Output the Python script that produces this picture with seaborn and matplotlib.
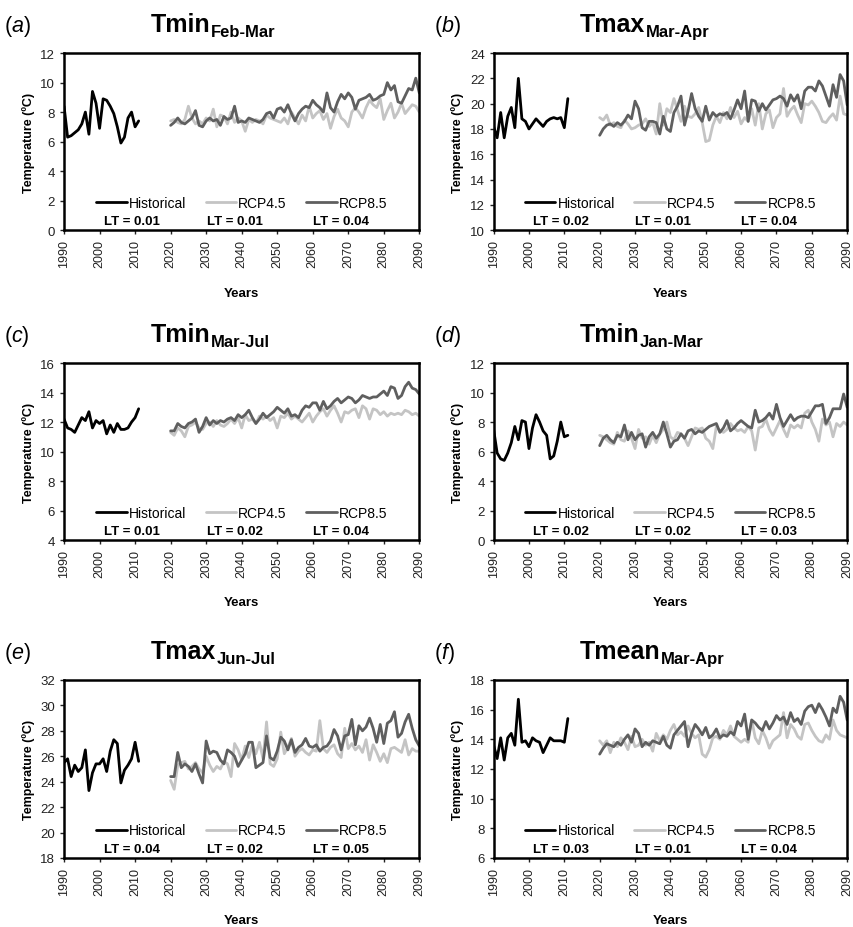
import matplotlib
matplotlib.use("Agg")
import matplotlib.pyplot as plt
import pandas as pd
import seaborn as sns

sns.set_style("ticks")
plt.rcParams['font.family'] = ['Liberation Sans', 'DejaVu Sans']
plt.rcParams['mathtext.fontset'] = 'custom'
plt.rcParams['mathtext.rm'] = 'Liberation Sans'
plt.rcParams['mathtext.it'] = 'Liberation Sans:italic'
plt.rcParams['mathtext.bf'] = 'Liberation Sans:bold'
plt.rcParams['text.color'] = 'black'
plt.rcParams['axes.labelcolor'] = 'black'

# years
hist_years = list(range(1990, 2012))
proj_years = list(range(2020, 2091))

# (a) Tmin Feb-Mar
a_hist = [8.4, 6.3, 6.4, 6.6, 6.8, 7.2, 8.0, 6.5, 9.4, 8.6, 6.9, 8.9, 8.8, 8.4, 7.9, 7.0,
          5.9, 6.3, 7.6, 8.0, 7.0, 7.4]
a_rcp45 = [7.4, 7.5, 7.3, 7.2, 7.5, 8.4, 7.6, 7.2, 7.4, 7.2,
           7.6, 7.4, 8.2, 7.0, 7.8, 7.7, 7.2, 8.0, 7.3, 7.6,
           7.4, 6.7, 7.5, 7.3, 7.5, 7.4, 7.2, 7.8, 7.6, 7.5,
           7.4, 7.3, 7.6, 7.2, 8.0, 7.6, 7.2, 7.8, 7.4, 8.4,
           7.6, 7.9, 8.1, 7.5, 7.9, 6.9, 7.7, 8.2, 7.6, 7.4,
           7.0, 8.0, 8.3, 8.0, 7.6, 8.3, 8.8, 8.5, 8.3, 8.9,
           7.5, 8.1, 8.6, 7.6, 8.0, 8.6, 7.9, 8.2, 8.5, 8.4, 8.0]
a_rcp85 = [7.1, 7.3, 7.6, 7.3, 7.2, 7.4, 7.6, 8.1, 7.1, 7.0,
           7.4, 7.6, 7.4, 7.5, 7.1, 7.7, 7.5, 7.6, 8.4, 7.3,
           7.4, 7.3, 7.6, 7.5, 7.4, 7.3, 7.5, 7.9, 8.0, 7.6,
           8.2, 8.3, 8.0, 8.5, 7.9, 7.4, 7.9, 8.2, 8.4, 8.3,
           8.8, 8.5, 8.3, 8.0, 9.3, 8.3, 8.0, 8.7, 9.2, 8.9,
           9.3, 9.0, 8.2, 8.8, 8.9, 9.0, 9.2, 8.8, 8.9, 9.1,
           9.2, 10.0, 9.5, 9.8, 8.7, 8.6, 9.1, 9.6, 9.5, 10.3, 9.3]

# (b) Tmax Mar-Apr
b_hist = [18.2, 17.3, 19.3, 17.3, 19.0, 19.7, 18.1, 22.0, 18.8, 18.6, 18.0, 18.4, 18.8,
          18.5, 18.2, 18.6, 18.8, 18.9, 18.8, 18.9, 18.1, 20.4]
b_rcp45 = [18.9, 18.7, 19.1, 18.3, 18.5, 18.2, 18.1, 18.7, 18.4, 18.0,
           18.1, 18.3, 18.4, 18.8, 18.2, 18.5, 17.6, 20.0, 18.3, 19.6,
           19.3, 20.4, 19.5, 18.6, 19.8, 19.0, 18.9, 19.2, 19.7, 18.5,
           17.0, 17.1, 18.3, 19.0, 18.5, 19.3, 18.8, 19.7, 18.9, 19.4,
           18.4, 18.9, 18.6, 19.6, 18.3, 20.0, 18.0, 19.2, 19.5, 18.1,
           18.9, 19.2, 21.2, 19.0, 19.5, 19.8, 19.1, 18.5, 20.0, 19.9,
           20.2, 19.8, 19.3, 18.6, 18.5, 18.9, 19.2, 18.7, 20.6, 19.2, 19.1]
b_rcp85 = [17.5, 18.0, 18.3, 18.4, 18.2, 18.5, 18.3, 18.6, 19.1, 18.8,
           20.2, 19.6, 18.1, 17.9, 18.6, 18.6, 18.5, 17.6, 19.0, 18.0,
           17.8, 19.3, 19.8, 20.6, 18.3, 19.4, 20.8, 19.6, 19.0, 18.6,
           19.8, 18.7, 19.3, 19.0, 19.2, 19.1, 19.3, 18.8, 19.5, 20.3,
           19.6, 21.0, 18.6, 20.3, 20.2, 19.4, 20.0, 19.5, 19.9, 20.3,
           20.4, 20.6, 20.4, 19.8, 20.7, 20.2, 20.7, 19.6, 21.0, 21.3,
           21.3, 21.0, 21.8, 21.4, 20.6, 19.8, 21.5, 20.5, 22.3, 21.8, 19.9]

# (c) Tmin Mar-Jul
c_hist = [12.2, 11.6, 11.5, 11.3, 11.8, 12.3, 12.1, 12.7, 11.6, 12.1, 11.9, 12.1, 11.2,
          11.8, 11.3, 11.9, 11.5, 11.5, 11.6, 12.0, 12.3, 12.9]
c_rcp45 = [11.3, 11.1, 11.6, 11.4, 11.0, 11.7, 11.8, 12.0, 11.6, 11.5,
           11.9, 12.0, 11.7, 12.1, 11.8, 11.7, 11.9, 12.2, 11.9, 12.3,
           11.6, 12.5, 12.1, 12.2, 11.9, 12.4, 12.2, 12.4, 12.1, 12.3,
           11.6, 12.4, 12.3, 12.6, 12.2, 12.4, 12.2, 12.0, 12.3, 12.6,
           12.0, 12.4, 12.7, 12.9, 12.4, 12.8, 13.1, 12.6, 12.0, 12.7,
           12.6, 12.8, 12.9, 12.3, 13.1, 12.9, 12.2, 12.9, 12.8, 12.5,
           12.7, 12.4, 12.6, 12.5, 12.6, 12.5, 12.8, 12.7, 12.5, 12.6, 12.4]
c_rcp85 = [11.4, 11.4, 11.9, 11.7, 11.6, 11.9, 12.0, 12.2, 11.3, 11.7,
           12.3, 11.8, 12.1, 11.9, 12.1, 12.0, 12.2, 12.3, 12.1, 12.5,
           12.3, 12.5, 12.8, 12.3, 11.9, 12.2, 12.6, 12.3, 12.5, 12.7,
           13.0, 12.8, 12.6, 12.9, 12.4, 12.5, 12.3, 12.8, 13.1, 13.0,
           13.3, 13.3, 12.8, 13.4, 12.9, 13.1, 13.4, 13.6, 13.3, 13.5,
           13.7, 13.6, 13.3, 13.5, 13.8, 13.7, 13.6, 13.7, 13.7, 13.9,
           14.1, 13.8, 14.4, 14.3, 13.6, 13.8, 14.4, 14.7, 14.3, 14.2, 13.9]

# (d) Tmin Jan-Mar
d_hist = [7.5, 5.9, 5.5, 5.4, 5.9, 6.6, 7.7, 6.8, 8.1, 8.0, 6.2, 7.6, 8.5, 8.0, 7.4, 7.1,
          5.5, 5.7, 6.7, 8.0, 7.0, 7.1]
d_rcp45 = [7.1, 7.0, 6.8, 6.6, 6.5, 7.3, 6.8, 6.7, 7.4, 6.9,
           6.2, 7.5, 6.9, 7.0, 6.5, 7.1, 6.6, 7.2, 7.5, 8.0,
           7.0, 6.8, 7.3, 7.2, 6.9, 6.4, 7.0, 7.6, 7.5, 7.6,
           6.9, 6.7, 6.2, 7.7, 7.4, 7.3, 7.5, 7.9, 7.6, 7.4,
           7.5, 7.3, 7.7, 7.4, 6.1, 7.6, 7.7, 8.2, 7.5, 7.1,
           7.6, 8.1, 7.5, 7.0, 7.8, 7.6, 7.8, 7.6, 8.6, 8.8,
           8.0, 7.5, 6.7, 8.2, 7.8, 8.0, 7.0, 7.9, 7.7, 8.0, 7.8]
d_rcp85 = [6.4, 6.9, 7.1, 6.8, 6.6, 7.1, 7.0, 7.8, 6.8, 7.3,
           6.8, 7.1, 7.2, 6.3, 7.0, 7.3, 6.9, 7.2, 8.0, 7.2,
           6.3, 6.7, 6.8, 7.2, 6.9, 7.4, 7.5, 7.2, 7.4, 7.3,
           7.5, 7.7, 7.8, 7.9, 7.3, 7.6, 8.1, 7.4, 7.6, 7.9,
           8.1, 7.9, 7.7, 7.6, 8.8, 8.0, 8.1, 8.3, 8.6, 8.2,
           9.2, 8.3, 7.7, 8.1, 8.5, 8.1, 8.3, 8.4, 8.4, 8.3,
           8.7, 9.1, 9.1, 9.2, 7.9, 8.3, 8.9, 8.9, 8.9, 9.9, 9.0]

# (e) Tmax Jun-Jul
e_hist = [25.5, 25.8, 24.4, 25.3, 24.8, 25.1, 26.5, 23.3, 24.7, 25.4, 25.4, 25.8, 24.8,
          26.4, 27.3, 27.0, 23.9, 24.9, 25.3, 25.8, 27.1, 25.6]
e_rcp45 = [24.1, 23.4, 25.3, 25.5, 25.6, 25.0, 25.2, 25.5, 25.0, 24.7,
           26.0, 25.3, 24.8, 25.2, 25.0, 25.6, 25.4, 24.4, 27.0, 26.5,
           25.7, 26.8, 25.9, 26.9, 26.2, 27.1, 25.8, 28.7, 25.4, 25.2,
           25.8, 27.9, 26.2, 26.7, 27.4, 26.0, 26.4, 26.6, 26.3, 26.1,
           26.5, 26.4, 28.8, 26.6, 26.3, 26.7, 26.9, 26.2, 25.9, 28.2,
           26.6, 27.0, 26.5, 26.8, 26.3, 27.3, 25.7, 26.9, 26.3, 25.6,
           26.2, 25.5, 26.6, 26.7, 26.5, 26.3, 27.3, 26.1, 26.6, 26.4, 26.4]
e_rcp85 = [24.4, 24.4, 26.3, 25.1, 25.4, 25.2, 24.8, 25.4, 24.6, 23.9,
           27.2, 26.2, 26.4, 26.3, 25.7, 25.4, 26.5, 26.3, 26.0, 25.2,
           25.7, 26.2, 27.1, 27.1, 25.1, 25.3, 25.5, 27.6, 25.9, 25.7,
           26.4, 27.5, 27.2, 26.5, 27.3, 26.3, 26.7, 26.9, 27.4, 26.8,
           26.7, 26.9, 26.4, 26.7, 26.8, 27.2, 28.1, 27.6, 26.5, 27.6,
           27.7, 28.9, 26.9, 28.4, 28.0, 28.3, 29.0, 28.2, 27.1, 28.5,
           27.0, 28.6, 28.8, 29.5, 27.5, 27.8, 28.7, 29.3, 28.2, 27.3, 26.8]

# (f) Tmean Mar-Apr
f_hist = [13.6, 12.7, 14.1, 12.6, 14.1, 14.4, 13.6, 16.7, 13.8, 13.9, 13.5, 14.1, 13.9,
          13.8, 13.1, 13.6, 14.1, 13.9, 13.9, 13.9, 13.8, 15.4]
f_rcp45 = [13.9, 13.6, 13.9, 13.1, 13.8, 13.5, 14.1, 13.8, 13.3, 14.2,
           13.5, 13.6, 14.0, 13.6, 13.8, 13.2, 14.4, 13.9, 14.3, 14.0,
           14.6, 15.0, 14.3, 14.5, 14.2, 14.9, 14.4, 14.1, 14.3, 13.0,
           12.8, 13.3, 14.1, 14.2, 14.0, 14.6, 14.3, 14.9, 14.2, 14.0,
           13.8, 14.0, 13.8, 15.3, 14.1, 13.7, 14.6, 14.1, 13.4, 13.9,
           14.1, 14.3, 15.8, 14.1, 15.0, 14.7, 14.2, 14.0, 15.0, 15.1,
           14.6, 14.2, 13.9, 13.8, 14.3, 14.0, 15.3, 14.6, 14.3, 14.2, 14.1]
f_rcp85 = [13.0, 13.4, 13.7, 13.6, 13.5, 13.8, 13.6, 14.0, 14.3, 13.8,
           14.7, 14.4, 13.5, 13.8, 13.6, 13.9, 13.8, 13.7, 14.2, 13.6,
           13.4, 14.3, 14.6, 14.9, 15.2, 13.5, 14.4, 15.0, 14.7, 14.3,
           14.8, 14.1, 14.3, 14.7, 14.1, 14.3, 14.2, 14.5, 14.3, 15.2,
           14.9, 15.7, 14.0, 15.3, 15.1, 14.8, 14.6, 15.2, 14.7, 15.1,
           15.6, 15.3, 15.5, 15.0, 15.8, 15.2, 15.4, 15.0, 15.9, 16.2,
           16.3, 15.8, 16.4, 16.0, 15.5, 14.9, 16.1, 15.8, 16.9, 16.5, 15.3]

letters = ['a', 'b', 'c', 'd', 'e', 'f']
var_names = ['Tmin', 'Tmax', 'Tmin', 'Tmin', 'Tmax', 'Tmean']
periods = ['Feb-Mar', 'Mar-Apr', 'Mar-Jul', 'Jan-Mar', 'Jun-Jul', 'Mar-Apr']
y_ranges = [(0, 12), (10, 24), (4, 16), (0, 12), (18, 32), (6, 18)]
lt_values = [('0.01', '0.01', '0.04'), ('0.02', '0.01', '0.04'), ('0.01', '0.02', '0.04'),
             ('0.02', '0.02', '0.03'), ('0.04', '0.02', '0.05'), ('0.03', '0.01', '0.04')]
hist_data = [a_hist, b_hist, c_hist, d_hist, e_hist, f_hist]
rcp45_data = [a_rcp45, b_rcp45, c_rcp45, d_rcp45, e_rcp45, f_rcp45]
rcp85_data = [a_rcp85, b_rcp85, c_rcp85, d_rcp85, e_rcp85, f_rcp85]

series_order = ['Historical', 'RCP4.5', 'RCP8.5']
palette = {'Historical': '#000000', 'RCP4.5': '#c4c4c4', 'RCP8.5': '#5f5f5f'}

# axes positions (figure fractions)
col_left = [0.075, 0.578]
col_width = [0.416, 0.414]
row_bottom = [0.751, 0.417, 0.0744]
row_height = [0.1907, 0.1907, 0.1918]

fig = plt.figure(figsize=(8.54, 9.28), dpi=100)

for i in range(6):
    r, c = divmod(i, 2)
    ax = fig.add_axes([col_left[c], row_bottom[r], col_width[c], row_height[r]])

    df = pd.concat([
        pd.DataFrame({'Year': hist_years, 'Temp': hist_data[i], 'Series': 'Historical'}),
        pd.DataFrame({'Year': proj_years, 'Temp': rcp45_data[i], 'Series': 'RCP4.5'}),
        pd.DataFrame({'Year': proj_years, 'Temp': rcp85_data[i], 'Series': 'RCP8.5'}),
    ], ignore_index=True)

    sns.lineplot(data=df, x='Year', y='Temp', hue='Series', hue_order=series_order,
                 palette=palette, linewidth=2.0, legend=False, ax=ax)

    lo, hi = y_ranges[i]
    ax.set_xlim(1990, 2090)
    ax.set_ylim(lo, hi)
    ax.set_xticks(range(1990, 2091, 10))
    ax.set_yticks(range(lo, hi + 1, 2))
    ax.tick_params(axis='x', labelrotation=90, labelsize=9, length=3, width=1, colors='#222222')
    ax.tick_params(axis='y', labelsize=9.5, length=3, width=1, colors='#222222')
    for sp in ax.spines.values():
        sp.set_visible(True)
        sp.set_linewidth(1.8)
        sp.set_color('black')

    ax.set_xlabel('Years', fontsize=9.5, fontweight='bold', labelpad=14)
    ax.set_ylabel('Temperature (ºC)', fontsize=9, fontweight='bold', labelpad=4)

    handles = ax.get_lines()[:3]
    ax.legend(handles, series_order, loc='center', bbox_to_anchor=(0.5, 0.155), ncol=3,
              frameon=False, fontsize=10, handlelength=2.2, handletextpad=0.15,
              columnspacing=1.4, borderpad=0)

    for xf, v in zip([0.19, 0.48, 0.78], lt_values[i]):
        ax.text(xf, 0.05, f'LT = {v}', transform=ax.transAxes, ha='center', va='center',
                fontsize=9.5, fontweight='bold')

    # panel letter and title
    ax.text(-0.17, 1.125, f'($\\mathit{{{letters[i]}}}$)', transform=ax.transAxes,
            fontsize=15.5, ha='left', va='baseline')
    t = ax.text(0.245, 1.125, var_names[i], transform=ax.transAxes, fontsize=18,
                fontweight='bold', ha='left', va='baseline')
    ax.annotate(periods[i], xy=(1, 0), xycoords=t, xytext=(0, 0), textcoords='offset points',
                fontsize=12, fontweight='bold', ha='left', va='baseline')

fig.savefig('out.png', dpi=100)
